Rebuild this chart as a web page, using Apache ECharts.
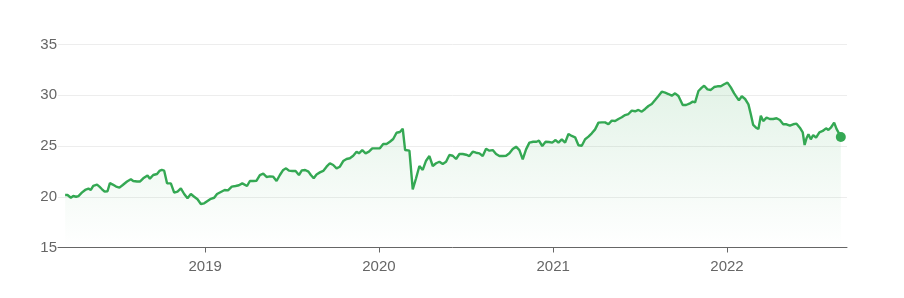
<!DOCTYPE html>
<html>
<head>
<meta charset="utf-8">
<script src="https://cdn.jsdelivr.net/npm/echarts@6/dist/echarts.min.js"></script>
<style>
html,body{margin:0;padding:0;background:#fff;}
#c{width:904px;height:298px;}
</style>
</head>
<body>
<div id="c"></div>
<script>
const dates = [
'2018-03-13','2018-03-18','2018-03-25','2018-03-30','2018-04-05','2018-04-10','2018-04-17','2018-04-24','2018-05-01','2018-05-06',
'2018-05-11','2018-05-19','2018-05-24','2018-05-29','2018-06-04','2018-06-10','2018-06-15','2018-06-21','2018-06-28','2018-07-05',
'2018-07-12','2018-07-21','2018-07-29','2018-08-03','2018-08-11','2018-08-17','2018-08-24','2018-09-02','2018-09-07','2018-09-14',
'2018-09-22','2018-09-27','2018-10-02','2018-10-07','2018-10-13','2018-10-16','2018-10-21','2018-10-28','2018-11-04','2018-11-11',
'2018-11-18','2018-11-25','2018-12-02','2018-12-09','2018-12-16','2018-12-23','2018-12-30','2019-01-06','2019-01-13','2019-01-20',
'2019-01-26','2019-01-31',
'2019-02-04','2019-02-11','2019-02-18','2019-02-26','2019-03-06','2019-03-13','2019-03-20','2019-03-30','2019-04-05','2019-04-12',
'2019-04-19','2019-04-26','2019-05-03','2019-05-10','2019-05-17','2019-05-24','2019-05-31','2019-06-07','2019-06-14','2019-06-20',
'2019-06-26','2019-07-03','2019-07-10','2019-07-17','2019-07-23','2019-07-30','2019-08-06','2019-08-11','2019-08-17','2019-08-23',
'2019-08-30','2019-09-06','2019-09-13','2019-09-20','2019-09-27','2019-10-04','2019-10-11','2019-10-18','2019-10-25','2019-11-01',
'2019-11-08','2019-11-15','2019-11-20','2019-11-27','2019-12-04','2019-12-11','2019-12-18',
'2019-12-29','2020-01-03','2020-01-10','2020-01-17','2020-01-24','2020-01-31','2020-02-07','2020-02-14','2020-02-20','2020-02-25',
'2020-03-05','2020-03-12','2020-03-19','2020-03-26','2020-04-02','2020-04-09','2020-04-16','2020-04-23','2020-04-30','2020-05-07',
'2020-05-14','2020-05-21','2020-05-28','2020-06-04','2020-06-11','2020-06-18','2020-06-25','2020-07-02','2020-07-09','2020-07-16',
'2020-07-23','2020-07-30','2020-08-06','2020-08-13','2020-08-20','2020-08-27','2020-09-03','2020-09-10','2020-09-17','2020-09-24',
'2020-10-01','2020-10-08','2020-10-15','2020-10-22','2020-10-29','2020-11-05','2020-11-12',
'2020-11-20','2020-11-27','2020-12-02','2020-12-09','2020-12-16','2020-12-23','2020-12-30','2021-01-06','2021-01-12','2021-01-19',
'2021-01-26','2021-02-02','2021-02-09','2021-02-16','2021-02-23','2021-03-02','2021-03-09','2021-03-16','2021-03-23','2021-03-30',
'2021-04-06','2021-04-13','2021-04-20','2021-04-27','2021-05-04','2021-05-11','2021-05-18','2021-05-25','2021-06-01','2021-06-08',
'2021-06-15','2021-06-22','2021-06-29','2021-07-06','2021-07-13','2021-07-20','2021-07-27','2021-08-03','2021-08-10','2021-08-17',
'2021-08-24','2021-08-31','2021-09-07','2021-09-14','2021-09-21',
'2021-09-30','2021-10-07','2021-10-14','2021-10-21','2021-10-26','2021-11-02','2021-11-09','2021-11-14','2021-11-21','2021-11-28',
'2021-12-05','2021-12-12','2021-12-19','2021-12-26','2022-01-02','2022-01-09','2022-01-16','2022-01-23','2022-01-26','2022-02-01',
'2022-02-08','2022-02-15','2022-02-20','2022-02-25','2022-03-03','2022-03-08','2022-03-13','2022-03-18','2022-03-25','2022-04-01',
'2022-04-08','2022-04-15','2022-04-22','2022-04-29','2022-05-06','2022-05-13','2022-05-20','2022-05-27','2022-06-03','2022-06-09',
'2022-06-13','2022-06-17','2022-06-21','2022-06-26','2022-07-01','2022-07-07','2022-07-14','2022-07-21','2022-07-28','2022-08-02',
'2022-08-07','2022-08-14','2022-08-19','2022-08-23','2022-08-28'
];
const prices = [
20.17,20.17,19.90,20.07,20.00,20.07,20.40,20.67,20.80,20.67,
21.06,21.19,21.00,20.76,20.50,20.54,21.35,21.20,21.00,20.90,
21.16,21.50,21.72,21.55,21.50,21.50,21.82,22.10,21.78,22.14,
22.24,22.54,22.64,22.57,21.32,21.16,21.32,20.40,20.50,20.83,
20.27,19.85,20.27,20.00,19.75,19.29,19.35,19.58,19.80,19.90,
20.27,20.40,
20.27,20.67,20.63,21.00,21.06,21.13,21.32,21.06,21.55,21.55,
21.58,22.14,22.27,21.95,22.01,21.98,21.55,22.14,22.64,22.80,
22.57,22.54,22.54,22.14,22.60,22.64,22.47,22.14,21.82,22.20,
22.40,22.54,22.96,23.30,23.13,22.80,22.96,23.52,23.72,23.79,
24.04,24.44,24.28,24.60,24.28,24.44,24.77,
24.77,24.77,25.20,25.20,25.42,25.69,26.31,26.38,26.70,24.60,
24.54,20.73,21.82,23.03,22.64,23.55,24.01,23.03,23.30,23.45,
23.23,23.45,24.11,24.04,23.72,24.21,24.21,24.14,24.01,24.44,
24.34,24.28,24.01,24.73,24.54,24.60,24.21,24.01,24.01,24.04,
24.28,24.70,24.93,24.60,23.69,24.67,25.33,
25.42,25.42,25.52,25.00,25.42,25.39,25.33,25.59,25.33,25.66,
25.33,26.18,25.99,25.86,25.07,25.03,25.66,25.92,26.25,26.64,
27.30,27.33,27.33,27.14,27.50,27.46,27.66,27.83,28.05,28.15,
28.48,28.42,28.55,28.38,28.65,28.94,29.14,29.53,29.93,30.35,
30.25,30.12,29.96,30.19,29.93,
29.04,29.04,29.17,29.37,29.30,30.42,30.75,30.94,30.58,30.52,
30.81,30.88,30.88,31.08,31.24,30.78,30.19,29.70,29.50,29.90,
29.63,29.10,28.12,27.07,26.80,26.67,27.99,27.46,27.79,27.66,
27.66,27.73,27.56,27.14,27.14,27.00,27.14,27.20,26.80,26.35,
25.10,25.76,26.15,25.66,26.08,25.82,26.35,26.48,26.74,26.58,
26.80,27.30,26.68,26.35,25.89
];
const yTicks = [15, 20, 25, 30, 35];
const axisStart = '2018-02-26';
const axisEnd = '2022-09-10';

const seriesData = dates.map((d, i) => [d, prices[i]]);
const lastPoint = [[dates[dates.length - 1], prices[prices.length - 1]]];
const green = '#34a853';
const DAY = 86400000;
const labelFont = 'Arial, "Liberation Sans", sans-serif';

const chart = echarts.init(document.getElementById('c'), null, {renderer: 'canvas'});
chart.setOption({
  animation: false,
  backgroundColor: '#ffffff',
  grid: {left: 58, right: 57, top: 44.5, bottom: 50.5, containLabel: false},
  xAxis: {
    type: 'time',
    min: axisStart,
    max: axisEnd,
    minInterval: 365 * DAY,
    maxInterval: 366 * DAY,
    axisLine: {show: true, lineStyle: {color: '#666666', width: 1}},
    axisTick: {show: true, length: 5, lineStyle: {color: '#666666'}},
    axisLabel: {
      formatter: '{yyyy}',
      color: '#666666',
      fontSize: 15,
      fontFamily: labelFont,
      margin: 12,
      showMinLabel: false,
      showMaxLabel: false
    },
    splitLine: {show: false}
  },
  yAxis: {
    type: 'value',
    min: yTicks[0],
    max: yTicks[yTicks.length - 1],
    interval: yTicks[1] - yTicks[0],
    axisLine: {show: false},
    axisTick: {show: false},
    axisLabel: {
      color: '#666666',
      fontSize: 15,
      fontFamily: labelFont,
      margin: 1
    },
    splitLine: {show: true, lineStyle: {color: '#ededed', width: 1}}
  },
  series: [
    {
      type: 'line',
      data: seriesData,
      showSymbol: false,
      symbol: 'none',
      lineStyle: {color: green, width: 2.4},
      itemStyle: {color: green},
      areaStyle: {
        color: new echarts.graphic.LinearGradient(0, 0, 0, 1, [
          {offset: 0, color: 'rgba(52,168,83,0.20)'},
          {offset: 1, color: 'rgba(52,168,83,0.0)'}
        ])
      },
      z: 2
    },
    {
      type: 'scatter',
      data: lastPoint,
      symbol: 'circle',
      symbolSize: 10,
      itemStyle: {color: green, opacity: 1},
      z: 3
    }
  ]
});
</script>
</body>
</html>
